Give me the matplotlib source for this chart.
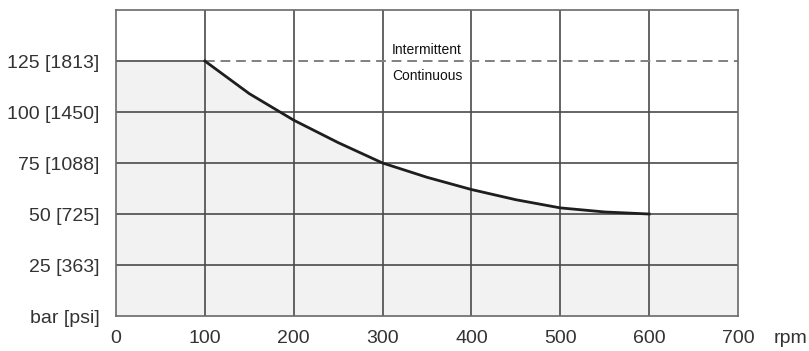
import numpy as np
import matplotlib.pyplot as plt

plt.rcParams['font.family'] = ['Liberation Sans', 'DejaVu Sans']

# continuous pressure limit vs speed
rpm = [100, 150, 200, 250, 300, 350, 400, 450, 500, 550, 600]
bar = [125, 109, 96, 85, 75, 68, 62, 57, 53, 51, 50]

# intermittent limit
int_rpm = [100, 700]
int_bar = [125, 125]

xticks = [0, 100, 200, 300, 400, 500, 600, 700]
yticks = [0, 25, 50, 75, 100, 125]
ylabels = ['bar [psi]', '25 [363]', '50 [725]', '75 [1088]', '100 [1450]', '125 [1813]']

fig = plt.figure(figsize=(8.09, 3.51), dpi=100)
ax = fig.add_axes([0.1434, 0.0997, 0.7688, 0.8718])

grid_c = '#4a4a4a'
fill_x = [0] + rpm + [700]
fill_y = [125] + bar + [50]
ax.fill_between(fill_x, 0, fill_y, color='#f2f2f2', zorder=0)

for x in xticks[1:-1]:
    ax.axvline(x, color=grid_c, lw=1.2, zorder=1)
for y in [25, 50, 75, 100]:
    ax.axhline(y, color=grid_c, lw=1.2, zorder=1)
ax.plot([0, 100], [125, 125], color=grid_c, lw=1.2, zorder=1)

ax.plot(int_rpm, int_bar, color='#808080', lw=1.4, ls=(0, (5, 3)), zorder=2)
ax.plot(rpm, bar, color='#1e1e1e', lw=2.0, zorder=3)

ax.text(350, 130.5, 'Intermittent', ha='center', va='center', fontsize=10, color='#111111')
ax.text(350, 117.5, 'Continuous', ha='center', va='center', fontsize=10, color='#111111')

ax.set_xlim(0, 700)
ax.set_ylim(0, 150)
ax.set_xticks(xticks)
ax.set_yticks(yticks)
ax.set_yticklabels(ylabels)
ax.tick_params(length=0, labelsize=14, labelcolor='#333333')
ax.tick_params(axis='x', pad=10)
ax.tick_params(axis='y', pad=12)
for s in ax.spines.values():
    s.set_color('#6a6a6a')
    s.set_linewidth(1.2)

fig.text(0.977, 0.035, 'rpm', fontsize=14, color='#333333', ha='center', va='center')

fig.savefig('out.png', dpi=100)
